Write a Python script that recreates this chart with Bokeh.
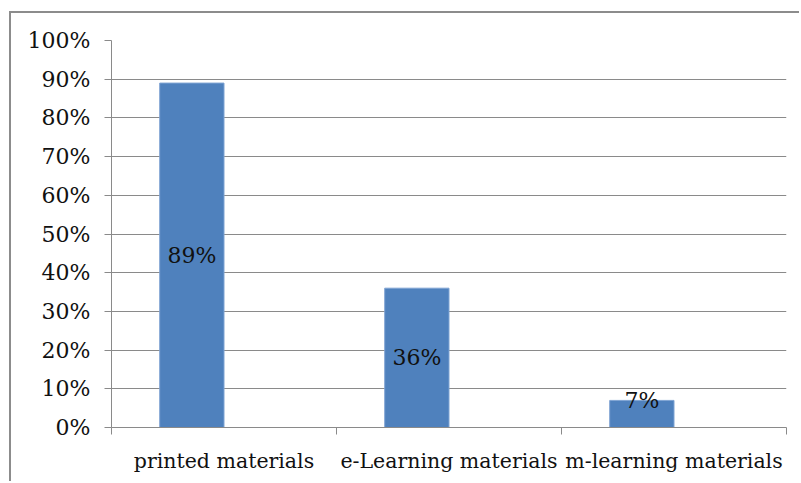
from bokeh.plotting import figure
from bokeh.models import ColumnDataSource, FixedTicker, NumeralTickFormatter, Range1d
from bokeh.core.properties import value
from bokeh.embed import file_html
from bokeh.resources import INLINE

# Share of respondents using each kind of study material
categories = ["printed materials", "e-Learning materials", "m-learning materials"]
shares = [0.89, 0.36, 0.07]
share_labels = ["89%", "36%", "7%"]
y_ticks = [0.0, 0.1, 0.2, 0.3, 0.4, 0.5, 0.6, 0.7, 0.8, 0.9, 1.0]

FONT = "DejaVu Serif"
GRID = "#8a8a8a"
BAR = "#4F81BD"

# Clustered-column geometry: two series slots per category, gap width 150%
n_slots = 2
gap = 1.5
bar_w = 1.0 / (n_slots + gap)
offset = gap / 2 * bar_w + bar_w / 2

xs = [i + offset for i in range(len(categories))]
label_y = [v / 2 if v >= 0.15 else v for v in shares]

src = ColumnDataSource(dict(x=xs, top=shares, ly=label_y, txt=share_labels))

p = figure(width=790, height=470, output_backend="svg", toolbar_location=None,
           x_range=Range1d(0, len(categories)), y_range=Range1d(0, 1))
p.min_border_left = 100
p.min_border_top = 27
p.min_border_right = 15
p.min_border_bottom = 56
p.outline_line_color = None
p.background_fill_color = "white"
p.border_fill_color = "white"
p.styles = {"border-top": "2px solid #8c8c8c", "border-left": "2px solid #8c8c8c",
            "margin-left": "9px", "margin-top": "11px"}

p.vbar(x="x", top="top", width=bar_w, bottom=0, source=src,
       fill_color=BAR, line_color="#7fa3d3", line_width=1)

p.text(x="x", y="ly", text="txt", source=src, text_align="center",
       text_baseline="middle", text_font=value(FONT), text_font_size="22px",
       text_color="#111111")

# y axis: percentages
yax = p.yaxis[0]
yax.ticker = FixedTicker(ticks=y_ticks, minor_ticks=[])
yax.formatter = NumeralTickFormatter(format="0%")
yax.axis_line_color = GRID
yax.major_tick_line_color = GRID
yax.major_tick_in = 0
yax.major_tick_out = 7
yax.minor_tick_line_color = None
yax.major_label_standoff = 14
yax.major_label_text_font = FONT
yax.major_label_text_font_size = "22px"
yax.major_label_text_color = "#111111"

# x axis: category names centred, tick marks at category boundaries
xax = p.xaxis[0]
centers = [i + 0.5 for i in range(len(categories))]
xax.ticker = FixedTicker(ticks=centers, minor_ticks=list(range(len(categories) + 1)))
xax.major_label_overrides = {c: name for c, name in zip(centers, categories)}
xax.axis_line_color = GRID
xax.major_tick_line_color = None
xax.major_tick_in = 0
xax.major_tick_out = 0
xax.minor_tick_line_color = GRID
xax.minor_tick_in = 0
xax.minor_tick_out = 7
xax.major_label_standoff = 14
xax.major_label_text_font = FONT
xax.major_label_text_font_size = "20.5px"
xax.major_label_text_color = "#111111"

p.xgrid.grid_line_color = None
p.ygrid.ticker = FixedTicker(ticks=y_ticks)
p.ygrid.grid_line_color = GRID
p.ygrid.grid_line_width = 1

open("out.html", "w").write(file_html(p, INLINE))
